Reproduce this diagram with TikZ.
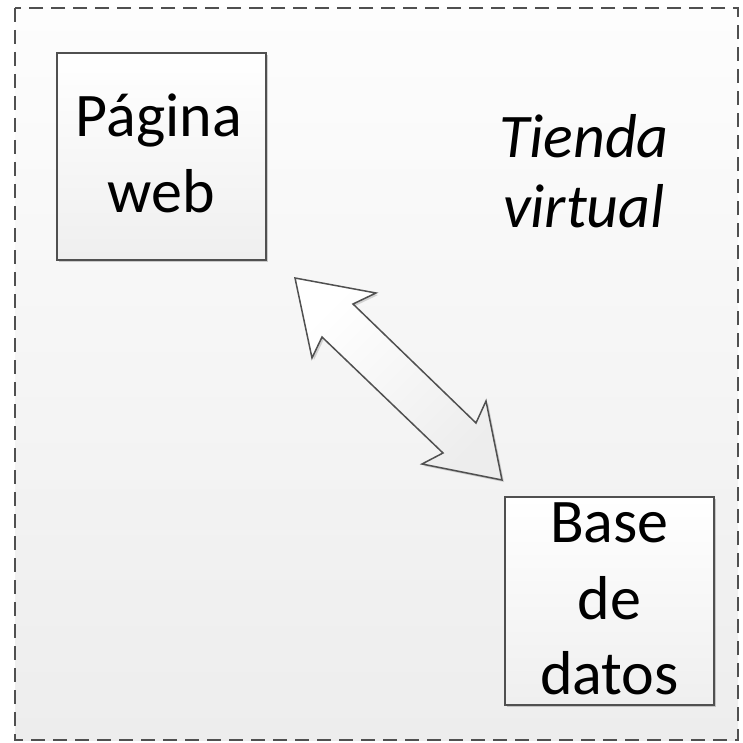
\documentclass[tikz,border=0pt]{standalone}
\usepackage{fontspec}
\setmainfont{Carlito}
\usetikzlibrary{shadows}
\definecolor{edge}{HTML}{505050}
\definecolor{bgtop}{HTML}{FDFDFD}
\definecolor{bgbot}{HTML}{EDEDED}
\tikzset{
  frame/.style={draw=edge, line width=1.3pt, dash pattern=on 14pt off 8pt, top color=bgtop, bottom color=bgbot},
  boxnode/.style={draw=edge, line width=1.8pt, top color=white, bottom color=bgbot!90!white, inner sep=0pt,
     drop shadow={shadow xshift=2pt, shadow yshift=-2pt, opacity=0.18, fill=black}},
  txt/.style={font=\fontsize{62}{75}\selectfont, align=center, inner sep=0pt, text=black},
  ttl/.style={font=\fontsize{62}{69}\selectfont\itshape, align=center, inner sep=0pt, text=black},
  blockarrow/.style={draw=edge, line width=1.5pt, line join=miter, left color=white, right color=bgbot,
     shading angle=45, drop shadow={shadow xshift=2pt, shadow yshift=-2pt, opacity=0.15, fill=black}}
}
\begin{document}
\begin{tikzpicture}[x=1pt, y=-1pt]
\useasboundingbox (0,0) rectangle (742,743);
\fill[white] (0,0) rectangle (742,743);
\path[frame] (15,8) rectangle (738,740);
% boxes
\node[boxnode, minimum width=209pt, minimum height=207pt] (web) at (161.5,156.5) {};
\node[boxnode, minimum width=209pt, minimum height=208pt] (db) at (609.5,601) {};
% texts
\node[txt, anchor=base] (webtxt1) at (159,137) {Página};
\node[txt, anchor=base] (webtxt2) at (161.5,212) {web};
\node[txt, anchor=base] (dbtxt1) at (609.5,542) {Base};
\node[txt, anchor=base] (dbtxt2) at (609.5,619) {de};
\node[txt, anchor=base] (dbtxt3) at (609.5,694) {datos};
\node[ttl, anchor=base] (ttl1) at (584,158) {Tienda};
\node[ttl, anchor=base] (ttl2) at (584,227) {virtual};
% double block arrow
\coordinate (tipA) at (295,278);
\coordinate (tipB) at (502,480);
\path[blockarrow] (tipA) -- (376,293) -- (353,304) -- (476,423) -- (486,401) -- (tipB)
  -- (422,464) -- (443,453) -- (322,337) -- (312,358) -- cycle;
\end{tikzpicture}
\end{document}
